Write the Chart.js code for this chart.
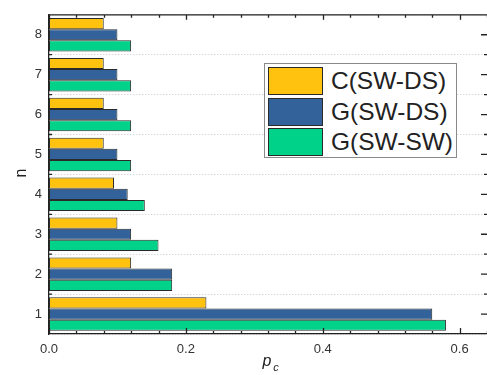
<!DOCTYPE html>
<html>
<head>
<meta charset="utf-8">
<script src="https://cdn.jsdelivr.net/npm/chart.js@4/dist/chart.umd.min.js"></script>
<style>
  body { margin: 0; background: #fff; overflow: hidden; }
  #wrap { position: relative; width: 487px; height: 375px; }
  #legend {
    position: absolute; left: 264px; top: 63px; width: 193px; height: 95px;
    border: 1px solid #8a8a8a; background: #fff; box-sizing: border-box;
    padding: 2px 0 0 3px; font-family: "Liberation Sans", Arial, sans-serif;
  }
  .item { display: flex; align-items: center; height: 30.5px; }
  .sw { width: 53px; height: 26px; border: 1.5px solid #2a2a2a; margin-right: 8px; }
  .lab { font-size: 24.5px; color: #222; line-height: 1; }
</style>
</head>
<body>
<div id="wrap">
  <canvas id="chart"></canvas>
  <div id="legend"></div>
</div>
<script>
const nLabels = ["1", "2", "3", "4", "5", "6", "7", "8"];
const seriesNames = ["C(SW-DS)", "G(SW-DS)", "G(SW-SW)"];
const cSwDs = [0.23, 0.12, 0.10, 0.095, 0.08, 0.08, 0.08, 0.08];
const gSwDs = [0.56, 0.18, 0.12, 0.115, 0.10, 0.10, 0.10, 0.10];
const gSwSw = [0.58, 0.18, 0.16, 0.14, 0.12, 0.12, 0.12, 0.12];
const xTickLabels = [0, 0.2, 0.4, 0.6];
const colors = ["#ffc20e", "#33629a", "#00d28a"];

Chart.defaults.font.family = '"Liberation Sans", Arial, sans-serif';
Chart.defaults.color = "#333";

// inward ticks, top frame line, axis titles
const frame = {
  id: "frame",
  afterDraw(chart) {
    const c = chart.ctx, a = chart.chartArea;
    const xs = chart.scales.x, ys = chart.scales.y;
    c.save();
    c.strokeStyle = "#222";
    c.lineWidth = 1.3;
    c.setLineDash([]);
    c.beginPath();
    c.moveTo(a.left, a.top); c.lineTo(a.right, a.top);
    for (let i = 0; i <= 16; i++) {
      const v = i * 0.04;
      const px = Math.round(xs.getPixelForValue(v)) + 0.5;
      const major = i % 5 === 0;
      c.moveTo(px, a.bottom); c.lineTo(px, a.bottom - (major ? 6 : 3));
      c.moveTo(px, a.top); c.lineTo(px, a.top + (major ? 5 : 3));
    }
    for (let i = 0; i < nLabels.length; i++) {
      const py = ys.getPixelForValue(i);
      c.moveTo(a.right, py); c.lineTo(a.right - 6, py);
      if (i > 0) {
        const b = (py + ys.getPixelForValue(i - 1)) / 2;
        c.moveTo(a.right, b); c.lineTo(a.right - 3, b);
        c.moveTo(a.left, b); c.lineTo(a.left + 3, b);
      }
    }
    c.stroke();
    c.fillStyle = "#222";
    c.textAlign = "center";
    c.textBaseline = "middle";
    c.font = '16px "Liberation Sans", Arial, sans-serif';
    c.save();
    c.translate(22, 173);
    c.rotate(-Math.PI / 2);
    c.fillText("n", 0, 0);
    c.restore();
    c.font = 'italic 16px "Liberation Sans", Arial, sans-serif';
    c.fillText("p", 267, 362);
    c.font = 'italic 11px "Liberation Sans", Arial, sans-serif';
    c.fillText("c", 276, 368);
    c.restore();
  }
};

const chart = new Chart(document.getElementById("chart"), {
  type: "bar",
  data: {
    labels: nLabels,
    datasets: [cSwDs, gSwDs, gSwSw].map((d, i) => ({
      label: seriesNames[i],
      data: d,
      backgroundColor: colors[i],
      borderColor: "#2a2a2a",
      borderWidth: 1,
      borderSkipped: false,
      categoryPercentage: 0.84,
      barPercentage: 1.0
    }))
  },
  options: {
    indexAxis: "y",
    responsive: true,
    maintainAspectRatio: false,
    animation: false,
    layout: { padding: { top: 11, right: 0, left: 0, bottom: 0 } },
    plugins: { legend: { display: false }, tooltip: { enabled: false } },
    scales: {
      x: {
        type: "linear",
        min: 0,
        max: 0.64,
        grid: { display: false, drawTicks: false },
        border: { display: true, color: "#222", width: 1.3 },
        afterFit(s) { s.height = 41; },
        afterBuildTicks(s) {
          s.ticks = xTickLabels.map(v => ({ value: v }));
        },
        ticks: {
          padding: 8,
          font: { size: 13 },
          color: "#333",
          callback: v => v.toFixed(1)
        }
      },
      y: {
        reverse: true,
        grid: {
          display: true,
          drawTicks: false,
          offset: true,
          color: "#c8c8c8",
          lineWidth: 1
        },
        border: { display: true, color: "#222", width: 1.3, dash: [1, 2] },
        afterFit(s) { s.width = 49; },
        ticks: { padding: 7, font: { size: 13 }, color: "#333" }
      }
    }
  },
  plugins: [frame]
});

// HTML legend built from the datasets
const leg = document.getElementById("legend");
chart.data.datasets.forEach(ds => {
  const it = document.createElement("div");
  it.className = "item";
  it.innerHTML = `<div class="sw" style="background:${ds.backgroundColor}"></div><span class="lab">${ds.label}</span>`;
  leg.appendChild(it);
});
</script>
</body>
</html>
